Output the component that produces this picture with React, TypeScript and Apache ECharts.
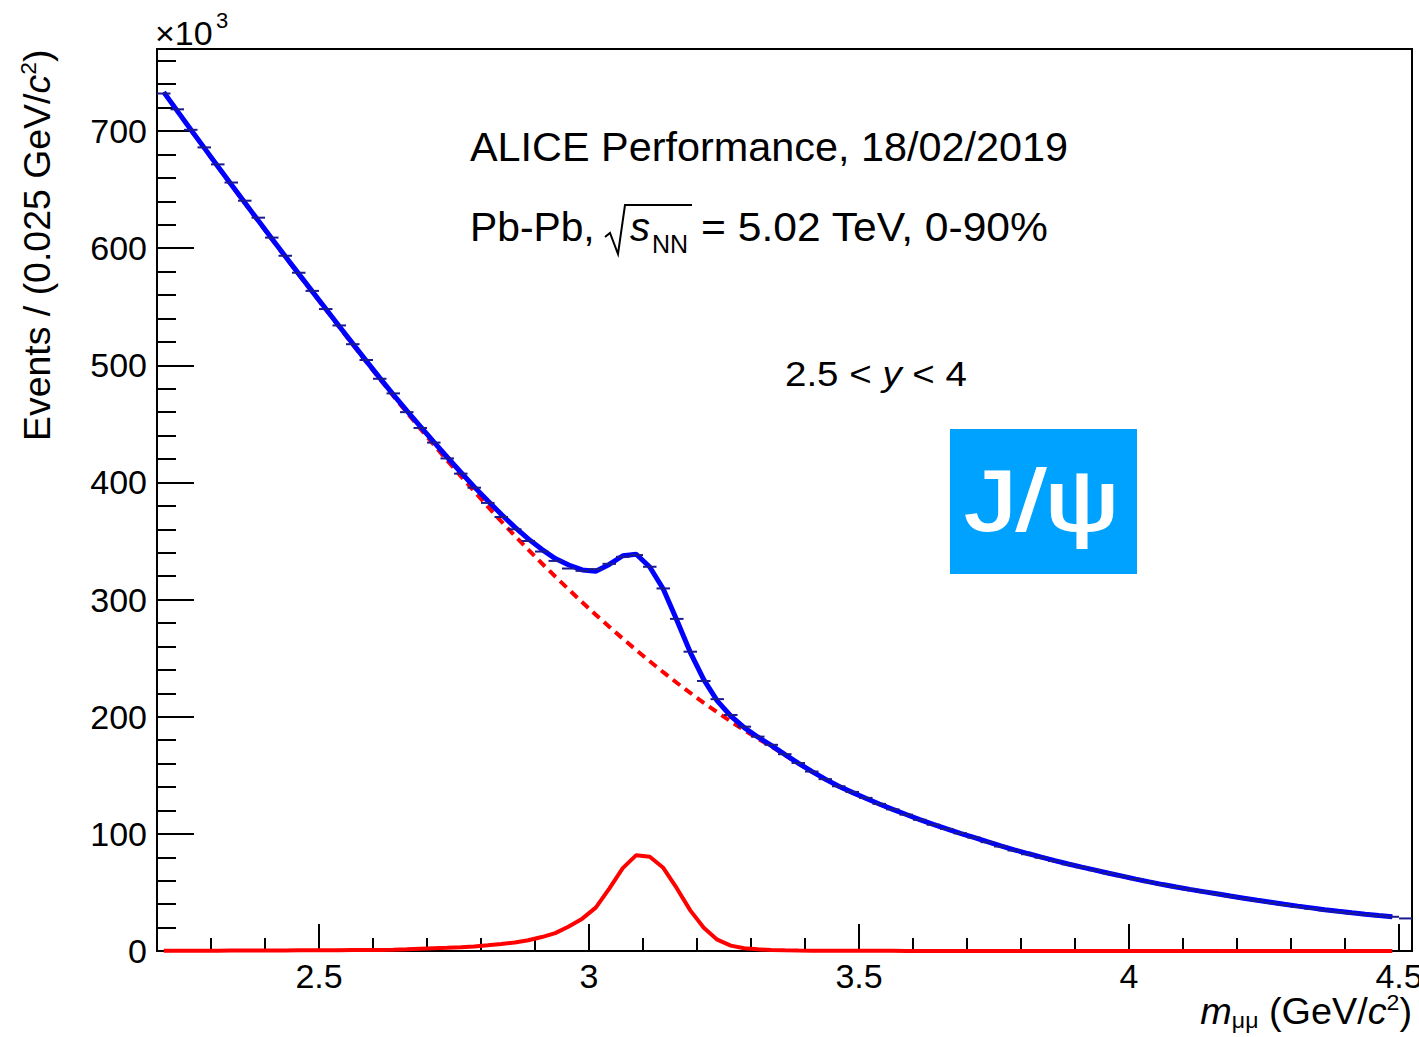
import React, { useEffect, useRef } from 'react';
import * as echarts from 'echarts';

// Histogram binning (GeV/c^2)
const HIST_LOW = 2.2;
const BIN_WIDTH = 0.025;
const X_MIN = 2.2;
const X_MAX = 4.524;
const Y_MIN = 0;
const Y_MAX = 770;

// Data: events per bin (x10^3), bins of 0.025 GeV/c^2 starting at 2.2
const dataCounts = [
  732, 718.5, 701, 686, 671.5, 656, 640.5, 626, 609, 593.5,
  579, 563.5, 548, 534, 518, 504.5, 488.5, 476, 460, 446.5,
  434, 420.5, 407.5, 395.5, 382.5, 370.5, 360, 350, 341, 333,
  326.5, 324.5, 326, 330.5, 336.5, 338, 328, 309.5, 283.5, 255.5,
  230.5, 215, 201.5, 191.5, 183, 176, 168, 160.5, 153.2, 146.7,
  140.6, 135.8, 130.7, 125.6, 120.9, 116.4, 112, 107.8, 104.2, 100.5,
  96.9, 92.9, 89.2, 85.8, 82.6, 79.7, 76.8, 74, 71.5, 68.9,
  66.3, 63.8, 61.3, 58.8, 56.5, 54.5, 52.6, 50.7, 48.7, 46.7,
  44.7, 42.9, 41.2, 39.3, 37.6, 36.1, 34.7, 33.3, 32.2, 31.1,
  30.2, 29.2, 27.8,
];

// Fit: total (signal + background), evaluated at bin centres
const fitTotal = [
  733.2, 717.2, 701.35, 685.6, 669.9, 654.35, 638.9, 623.5, 608.25, 593.1,
  578.05, 563.1, 548.25, 533.3, 518.5, 503.75, 489.25, 475.0, 461.3, 447.9,
  434.6, 421.5, 408.7, 396.2, 384.3, 372.8, 361.8, 351.8, 342.9, 335.0,
  329.5, 325.3, 324.1, 330.0, 337.4, 338.7, 327.8, 309.0, 282.6, 255.0,
  231.7, 213.5, 200.6, 190.7, 182.7, 175.5, 167.8, 160.4, 153.3, 146.75,
  140.7, 135.4, 130.4, 125.5, 120.9, 116.5, 112.2, 108.1, 104.2, 100.5,
  96.9, 93.3, 89.8, 86.4, 83.2, 80.1, 77.1, 74.3, 71.6, 69.0,
  66.4, 63.9, 61.4, 59.0, 56.7, 54.6, 52.6, 50.7, 48.8, 46.9,
  45.1, 43.3, 41.6, 39.9, 38.3, 36.8, 35.3, 33.9, 32.6, 31.4,
  30.3, 29.3,
];

// Fit: background component
const fitBackground = [
  733.0, 717.0, 701.1, 685.3, 669.6, 654.0, 638.5, 623.1, 607.8, 592.6,
  577.5, 562.5, 547.6, 532.6, 517.7, 502.9, 488.3, 473.9, 459.8, 445.9,
  432.2, 418.7, 405.4, 392.3, 379.4, 366.8, 354.5, 342.6, 331.0, 319.7,
  308.6, 297.7, 287.1, 276.8, 266.7, 256.9, 247.3, 238.0, 229.0, 220.3,
  211.9, 203.8, 196.0, 188.4, 181.3, 174.6, 167.2, 160.0, 153.0, 146.5,
  140.5, 135.2, 130.2, 125.4, 120.8, 116.4, 112.1, 108.0, 104.1, 100.4,
  96.8, 93.2, 89.7, 86.3, 83.1, 80.0, 77.0, 74.2, 71.5, 68.9,
  66.3, 63.8, 61.3, 58.9, 56.6, 54.5, 52.5, 50.6, 48.7, 46.8,
  45.0, 43.2, 41.5, 39.8, 38.2, 36.7, 35.2, 33.8, 32.5, 31.3,
  30.2, 29.2,
];

// Fit: J/psi signal component
const fitSignal = [
  0.2, 0.2, 0.25, 0.3, 0.3, 0.35, 0.4, 0.4, 0.45, 0.5,
  0.55, 0.6, 0.65, 0.7, 0.8, 0.85, 0.95, 1.1, 1.5, 2.0,
  2.4, 2.8, 3.3, 3.9, 4.9, 6.0, 7.3, 9.2, 11.9, 15.3,
  20.9, 27.6, 37.0, 53.2, 70.7, 81.8, 80.5, 71.0, 53.6, 34.7,
  19.8, 9.7, 4.6, 2.3, 1.4, 0.9, 0.6, 0.4, 0.3, 0.25,
  0.2, 0.18, 0.16, 0.14, 0.12, 0.1, 0.1, 0.09, 0.08, 0.07,
  0.06, 0.06, 0.05, 0.05, 0.05, 0.04, 0.04, 0.04, 0.03, 0.03,
  0.03, 0.03, 0.02, 0.02, 0.02, 0.02, 0.02, 0.02, 0.01, 0.01,
  0.01, 0.01, 0.01, 0.01, 0.01, 0.01, 0.01, 0.01, 0.01, 0.01,
  0.01, 0.01,
];

const xMajorTicks = [2.5, 3, 3.5, 4, 4.5];
const xMinorTicks = [2.3, 2.4, 2.6, 2.7, 2.8, 2.9, 3.1, 3.2, 3.3, 3.4, 3.6, 3.7, 3.8, 3.9, 4.1, 4.2, 4.3, 4.4];
const yMajorTicks = [0, 100, 200, 300, 400, 500, 600, 700];
const yMinorTicks = [
  20, 40, 60, 80, 120, 140, 160, 180, 220, 240, 260, 280, 320, 340, 360, 380,
  420, 440, 460, 480, 520, 540, 560, 580, 620, 640, 660, 680, 720, 740, 760,
];

const FONT = "'Liberation Sans', Arial, Helvetica, sans-serif";

const binCenter = (i: number) => HIST_LOW + (i + 0.5) * BIN_WIDTH;
const toPairs = (arr: number[]) => arr.map((v, i) => [binCenter(i), v]);

export default function App() {
  const ref = useRef<HTMLDivElement>(null);

  useEffect(() => {
    if (!ref.current) return;
    const chart = echarts.init(ref.current, null, { renderer: 'svg' });

    const axisLineStyle = { color: '#000', width: 2 };

    const option: any = {
      animation: false,
      backgroundColor: '#fff',
      grid: {
        left: 157,
        right: 7,
        top: 49,
        bottom: 86,
        show: true,
        borderColor: '#000',
        borderWidth: 2,
        backgroundColor: 'transparent',
        containLabel: false,
        outerBoundsMode: 'none',
      },
      xAxis: [
        {
          type: 'value',
          min: X_MIN,
          max: X_MAX,
          position: 'bottom',
          axisLine: { show: true, lineStyle: axisLineStyle },
          axisTick: { show: true, inside: true, length: 27, customValues: xMajorTicks, lineStyle: axisLineStyle },
          axisLabel: {
            show: true,
            customValues: xMajorTicks,
            fontSize: 34,
            fontFamily: FONT,
            color: '#000',
            margin: 8,
            formatter: (v: number) => String(v),
          },
          splitLine: { show: false },
        },
        {
          type: 'value',
          min: X_MIN,
          max: X_MAX,
          position: 'bottom',
          axisLine: { show: false },
          axisTick: { show: true, inside: true, length: 13, customValues: xMinorTicks, lineStyle: axisLineStyle },
          axisLabel: { show: false },
          splitLine: { show: false },
        },
      ],
      yAxis: [
        {
          type: 'value',
          min: Y_MIN,
          max: Y_MAX,
          position: 'left',
          axisLine: { show: true, lineStyle: axisLineStyle },
          axisTick: { show: true, inside: true, length: 37, customValues: yMajorTicks, lineStyle: axisLineStyle },
          axisLabel: {
            show: true,
            customValues: yMajorTicks,
            fontSize: 34,
            fontFamily: FONT,
            color: '#000',
            margin: 10,
          },
          splitLine: { show: false },
        },
        {
          type: 'value',
          min: Y_MIN,
          max: Y_MAX,
          position: 'left',
          axisLine: { show: false },
          axisTick: { show: true, inside: true, length: 19, customValues: yMinorTicks, lineStyle: axisLineStyle },
          axisLabel: { show: false },
          splitLine: { show: false },
        },
      ],
      series: [
        {
          type: 'line',
          name: 'Background',
          xAxisIndex: 0,
          yAxisIndex: 0,
          data: toPairs(fitBackground),
          symbol: 'none',
          lineStyle: { color: '#ff0000', width: 4, type: [9, 6] },
          z: 2,
        },
        {
          type: 'line',
          name: 'Signal',
          xAxisIndex: 0,
          yAxisIndex: 0,
          data: toPairs(fitSignal),
          symbol: 'none',
          lineStyle: { color: '#ff0000', width: 4 },
          z: 3,
        },
        {
          type: 'line',
          name: 'Total fit',
          xAxisIndex: 0,
          yAxisIndex: 0,
          data: toPairs(fitTotal),
          symbol: 'none',
          lineStyle: { color: '#0000ff', width: 5 },
          z: 4,
        },
        {
          type: 'custom',
          name: 'Data',
          xAxisIndex: 0,
          yAxisIndex: 0,
          data: toPairs(dataCounts),
          clip: true,
          z: 5,
          renderItem: (params: any, api: any) => {
            const x = api.value(0) as number;
            const y = api.value(1) as number;
            const a = api.coord([x - BIN_WIDTH / 2, y]);
            const b = api.coord([x + BIN_WIDTH / 2, y]);
            return {
              type: 'line',
              shape: { x1: a[0], y1: a[1], x2: b[0], y2: b[1] },
              style: { stroke: '#1b1b8f', lineWidth: 2 },
            };
          },
        },
      ],
      graphic: [
        // x10^3 multiplier
        {
          type: 'text', x: 155, y: 33,
          style: { text: '×10', fontSize: 34, fontFamily: FONT, fill: '#000', align: 'left', verticalAlign: 'middle' },
        },
        {
          type: 'text', x: 216, y: 20,
          style: { text: '3', fontSize: 22, fontFamily: FONT, fill: '#000', align: 'left', verticalAlign: 'middle' },
        },
        // Y axis title
        {
          type: 'text', x: 38, y: 441, rotation: Math.PI / 2, scaleX: 1.04,
          style: {
            text: '{n|Events / (0.025 GeV/}{i|c}{s|2}{n|)}',
            align: 'left', verticalAlign: 'middle',
            rich: {
              n: { fontSize: 36, fontFamily: FONT, fill: '#000', lineHeight: 40, verticalAlign: 'middle' },
              i: { fontSize: 36, fontFamily: FONT, fontStyle: 'italic', fill: '#000', lineHeight: 40, verticalAlign: 'middle' },
              s: { fontSize: 22, fontFamily: FONT, fill: '#000', lineHeight: 26, verticalAlign: 'top' },
            },
          },
        },
        // X axis title
        {
          type: 'text', x: 1412, y: 1012, scaleX: 1.05,
          style: {
            text: '{i|m}{sub|μμ}{n| (GeV/}{i|c}{s|2}{n|)}',
            align: 'right', verticalAlign: 'middle',
            rich: {
              n: { fontSize: 36, fontFamily: FONT, fill: '#000', lineHeight: 40, verticalAlign: 'middle' },
              i: { fontSize: 36, fontFamily: FONT, fontStyle: 'italic', fill: '#000', lineHeight: 40, verticalAlign: 'middle' },
              s: { fontSize: 22, fontFamily: FONT, fill: '#000', lineHeight: 26, verticalAlign: 'top' },
              sub: { fontSize: 22, fontFamily: FONT, fill: '#000', lineHeight: 20, verticalAlign: 'bottom' },
            },
          },
        },
        // Header texts
        {
          type: 'text', x: 470, y: 147, scaleX: 1.035,
          style: { text: 'ALICE Performance, 18/02/2019', fontSize: 40, fontFamily: FONT, fill: '#000', align: 'left', verticalAlign: 'middle' },
        },
        {
          type: 'text', x: 470, y: 227, scaleX: 1.02,
          style: { text: 'Pb-Pb,', fontSize: 40, fontFamily: FONT, fill: '#000', align: 'left', verticalAlign: 'middle' },
        },
        {
          type: 'polyline',
          shape: { points: [[605, 237], [610, 233], [618, 254], [625, 205], [692, 205]] },
          style: { stroke: '#000', lineWidth: 2, fill: 'none' },
        },
        {
          type: 'text', x: 630, y: 227,
          style: { text: 's', fontSize: 40, fontFamily: FONT, fontStyle: 'italic', fill: '#000', align: 'left', verticalAlign: 'middle' },
        },
        {
          type: 'text', x: 652, y: 244,
          style: { text: 'NN', fontSize: 25, fontFamily: FONT, fill: '#000', align: 'left', verticalAlign: 'middle' },
        },
        {
          type: 'text', x: 701, y: 227, scaleX: 1.065,
          style: { text: '= 5.02 TeV, 0-90%', fontSize: 40, fontFamily: FONT, fill: '#000', align: 'left', verticalAlign: 'middle' },
        },
        {
          type: 'text', x: 785, y: 374, scaleX: 1.1,
          style: {
            text: '{n|2.5 < }{i|y}{n| < 4}',
            align: 'left', verticalAlign: 'middle',
            rich: {
              n: { fontSize: 35, fontFamily: FONT, fill: '#000' },
              i: { fontSize: 35, fontFamily: FONT, fontStyle: 'italic', fill: '#000' },
            },
          },
        },
        // J/psi badge
        {
          type: 'rect',
          shape: { x: 950, y: 429, width: 187, height: 145 },
          style: { fill: '#00a2ff' },
        },
        {
          type: 'text', x: 1042, y: 500, scaleX: 1.2,
          style: {
            text: 'J/ψ', fontSize: 86, fontFamily: FONT, fill: '#ffffff',
            stroke: '#ffffff', lineWidth: 2,
            align: 'center', verticalAlign: 'middle',
          },
        },
        // footer id (cut off at the page edge, as in the original)
        {
          type: 'text', x: 5, y: 1031,
          style: { text: 'ALI-PERF-310962', fontSize: 30, fontFamily: FONT, fill: '#bbbbbb', align: 'left', verticalAlign: 'top' },
        },
      ],
    };

    chart.setOption(option);
    return () => {
      chart.dispose();
    };
  }, []);

  return (
    <div
      ref={ref}
      style={{ position: 'fixed', left: 0, top: 0, width: 1419, height: 1037, background: '#fff' }}
    />
  );
}
